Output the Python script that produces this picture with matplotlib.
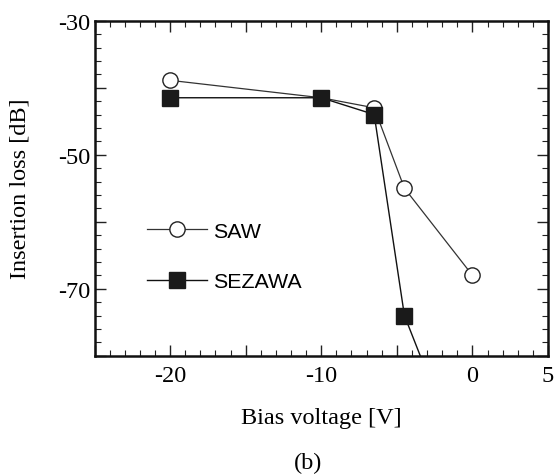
import numpy as np
import matplotlib
matplotlib.use('Agg')
import matplotlib.pyplot as plt
from matplotlib.ticker import MultipleLocator

# данные
saw_v = [-20, -10, -6.5, -4.5, 0]
saw_loss = [-38.9, -41.5, -43.0, -55.0, -68.0]

sez_v = [-20, -10, -6.5, -4.5, -3.0]
sez_loss = [-41.5, -41.5, -44.0, -74.0, -82.6]

xtick_pos = [-25, -20, -15, -10, -5, 0, 5]
xtick_lab = ['', '-20', '', '-10', '', '0', '5']
ytick_pos = [-80, -70, -60, -50, -40, -30]
ytick_lab = ['', '-70', '', '-50', '', '-30']

serif = ['Liberation Serif', 'DejaVu Serif']
sans = ['Liberation Sans', 'DejaVu Sans']

fig = plt.figure(figsize=(5.54, 4.77), dpi=100)
ax = fig.add_axes([0.1706, 0.2522, 0.8186, 0.7023])

ax.plot(saw_v, saw_loss, '-', color='#333333', lw=0.9, marker='o',
        ms=11, mfc='white', mec='#222222', mew=1.0, label='SAW',
        clip_on=True, zorder=3)
ax.plot(sez_v, sez_loss, '-', color='#111111', lw=1.0, marker='s',
        ms=11, mfc='#1a1a1a', mec='#1a1a1a', label='SEZAWA',
        clip_on=True, zorder=4)

ax.set_xlim(-25, 5)
ax.set_ylim(-80, -30)

ax.set_xticks(xtick_pos)
ax.set_xticklabels(xtick_lab, fontfamily=serif, fontsize=17.5)
ax.set_yticks(ytick_pos)
ax.set_yticklabels(ytick_lab, fontfamily=serif, fontsize=17.5)
ax.xaxis.set_minor_locator(MultipleLocator(1))
ax.yaxis.set_minor_locator(MultipleLocator(2))

ax.tick_params(which='both', direction='in', top=True, right=True,
               color='#222222')
ax.tick_params(which='major', length=8, width=1.0)
ax.tick_params(which='minor', length=4, width=0.8)
ax.tick_params(axis='x', which='major', pad=7)
ax.tick_params(axis='y', which='major', pad=3)

for s in ax.spines.values():
    s.set_linewidth(1.8)
    s.set_color('#111111')

ax.set_xlabel('Bias voltage [V]', fontfamily=serif, fontsize=17.5)
ax.set_ylabel('Insertion loss [dB]', fontfamily=serif, fontsize=17.5)
ax.xaxis.set_label_coords(0.5, -0.152)
ax.yaxis.set_label_coords(-0.142, 0.5)

leg = ax.legend(loc='upper left', bbox_to_anchor=(0.073, 0.457),
                frameon=False, prop={'family': sans, 'size': 15.4},
                handlelength=2.8, labelspacing=1.47, handletextpad=0.28)

fig.text(308 / 554, 1 - 463 / 477, '(b)', fontfamily=serif, fontsize=17.5,
         ha='center', va='center')

fig.savefig('out.png', dpi=100)
